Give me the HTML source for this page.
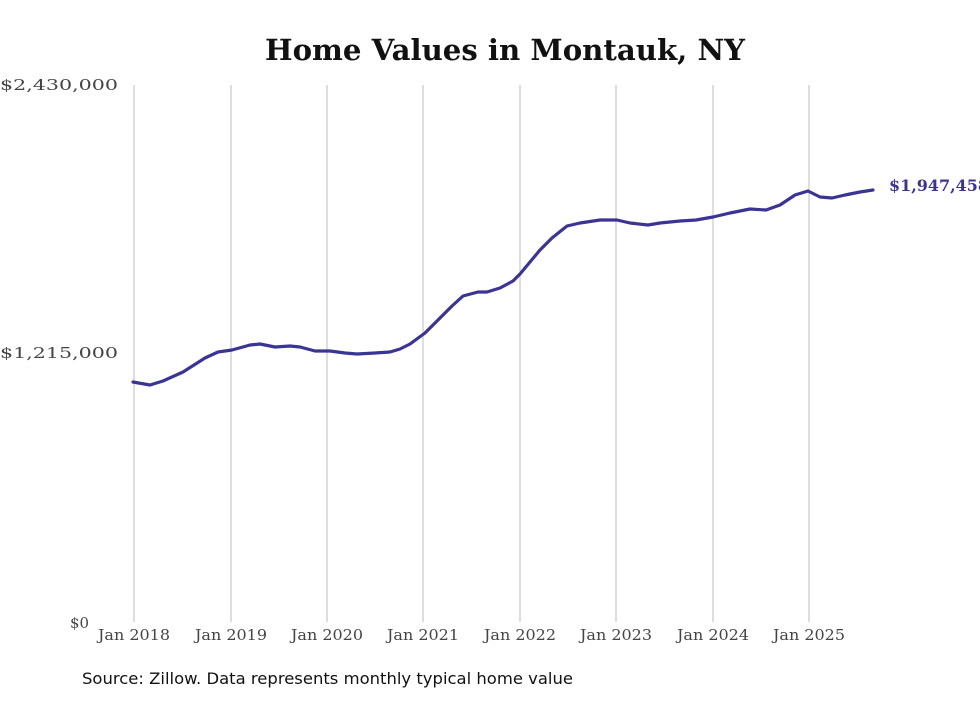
<!DOCTYPE html>
<html><head><style>body{margin:0;background:#fff}</style></head><body>
<svg width="980" height="699" viewBox="0 0 980 699" xmlns="http://www.w3.org/2000/svg">
<rect width="980" height="699" fill="#fff"/>
<text x="265" y="60" textLength="480" lengthAdjust="spacingAndGlyphs" font-family="DejaVu Serif, Liberation Serif, serif" font-weight="bold" font-size="29" fill="#111">Home Values in Montauk, NY</text>
<g stroke="#bdbdbd" stroke-width="1">
<line x1="134" y1="85" x2="134" y2="622"/><line x1="231" y1="85" x2="231" y2="622"/><line x1="327" y1="85" x2="327" y2="622"/><line x1="423" y1="85" x2="423" y2="622"/><line x1="520" y1="85" x2="520" y2="622"/><line x1="616" y1="85" x2="616" y2="622"/><line x1="713" y1="85" x2="713" y2="622"/><line x1="809" y1="85" x2="809" y2="622"/>
</g>
<g font-family="DejaVu Serif, Liberation Serif, serif" font-size="15" fill="#444">
<text x="0" y="90" textLength="118" lengthAdjust="spacingAndGlyphs">$2,430,000</text>
<text x="0" y="358" textLength="118" lengthAdjust="spacingAndGlyphs">$1,215,000</text>
<text x="70" y="628" textLength="19" lengthAdjust="spacingAndGlyphs">$0</text>
</g>
<g font-family="DejaVu Serif, Liberation Serif, serif" font-size="15" fill="#444">
<text x="98" y="640" textLength="72" lengthAdjust="spacingAndGlyphs">Jan 2018</text><text x="195" y="640" textLength="72" lengthAdjust="spacingAndGlyphs">Jan 2019</text><text x="291" y="640" textLength="72" lengthAdjust="spacingAndGlyphs">Jan 2020</text><text x="387" y="640" textLength="72" lengthAdjust="spacingAndGlyphs">Jan 2021</text><text x="484" y="640" textLength="72" lengthAdjust="spacingAndGlyphs">Jan 2022</text><text x="580" y="640" textLength="72" lengthAdjust="spacingAndGlyphs">Jan 2023</text><text x="677" y="640" textLength="72" lengthAdjust="spacingAndGlyphs">Jan 2024</text><text x="773" y="640" textLength="72" lengthAdjust="spacingAndGlyphs">Jan 2025</text>
</g>
<polyline fill="none" stroke="#3a3494" stroke-width="3.2" stroke-linejoin="round" stroke-linecap="round" points="133,382 150,385 163,381 183,372 205,358 218,352 232,350 250,345 260,344 275,347 290,346 300,347 315,351 330,351 345,353 357,354 375,353 390,352 400,349 410,344 425,333 440,318 452,306 463,296 478,292 487,292 500,288 513,281 520,274 530,262 540,250 552,238 567,226 580,223 600,220 617,220 630,223 648,225 660,223 680,221 696,220 713,217 730,213 750,209 766,210 780,205 795,195 808,191 820,197 832,198 845,195 860,192 873,190"/>
<text x="889" y="191" textLength="100" lengthAdjust="spacingAndGlyphs" font-family="DejaVu Serif, Liberation Serif, serif" font-weight="bold" font-size="16" fill="#3a3494">$1,947,458</text>
<text x="82" y="684" textLength="491" lengthAdjust="spacingAndGlyphs" font-family="DejaVu Sans, Liberation Sans, sans-serif" font-size="16" fill="#111">Source: Zillow. Data represents monthly typical home value</text>
</svg>
</body></html>
